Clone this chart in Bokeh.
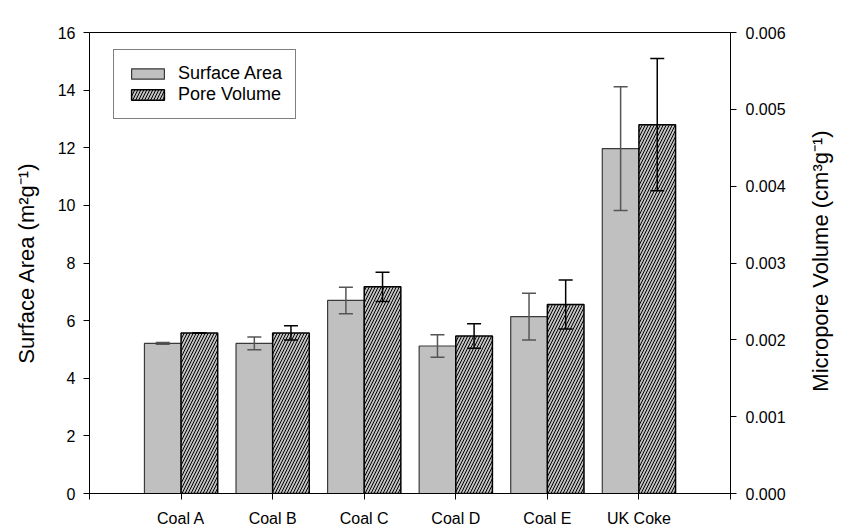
import math
from bokeh.plotting import figure
from bokeh.layouts import row
from bokeh.models import (Range1d, LinearAxis, FixedTicker, PrintfTickFormatter,
                          ColumnDataSource, Whisker, TeeHead, Label)
from bokeh.embed import file_html
from bokeh.resources import INLINE

# ---- data ----
categories = ["Coal A", "Coal B", "Coal C", "Coal D", "Coal E", "UK Coke"]
surface_area = [5.21, 5.21, 6.70, 5.12, 6.14, 11.97]
surface_err = [0.03, 0.22, 0.46, 0.39, 0.81, 2.15]
pore_volume = [0.00209, 0.00209, 0.00269, 0.00205, 0.00246, 0.00480]
pore_err = [0.0, 0.000093, 0.00019, 0.00016, 0.00032, 0.00086]
left_ticks = [0, 2, 4, 6, 8, 10, 12, 14, 16]
right_ticks = [0.000, 0.001, 0.002, 0.003, 0.004, 0.005, 0.006]
left_label = "Surface Area (m²g⁻¹)"
right_label = "Micropore Volume (cm³g⁻¹)"

FONT = "Liberation Sans"
GRAY = "#c0c0c0"

pos = [i + 1 for i in range(len(categories))]
bar_w = 0.4

sa_src = ColumnDataSource(dict(
    x=[p_ - bar_w / 2 for p_ in pos], top=surface_area,
    upper=[v + e for v, e in zip(surface_area, surface_err)],
    lower=[v - e for v, e in zip(surface_area, surface_err)]))
pv_src = ColumnDataSource(dict(
    x=[p_ + bar_w / 2 for p_ in pos], top=pore_volume,
    upper=[v + e for v, e in zip(pore_volume, pore_err)],
    lower=[v - e for v, e in zip(pore_volume, pore_err)]))

W, H = 810, 529          # main chart; a 31 px strip holds the right title
SIDE_W = 841 - W
BL, BR, BT, BB = 89, 80, 32, 35

p = figure(width=W, height=H, output_backend="svg", toolbar_location=None,
           x_range=Range1d(0, len(categories) + 1), y_range=Range1d(0, 16),
           min_border_left=BL, min_border_right=BR, min_border_top=BT,
           min_border_bottom=BB, background_fill_color="white",
           border_fill_color="white")
p.extra_y_ranges = {"pv": Range1d(0, 0.006)}
p.grid.visible = False
p.outline_line_color = "black"
p.outline_line_width = 1

p.vbar(x="x", top="top", width=bar_w, source=sa_src, fill_color=GRAY,
       line_color="#3a3a3a", line_width=1.2, legend_label="Surface Area")
p.vbar(x="x", top="top", width=bar_w, source=pv_src, fill_color=GRAY,
       line_color="black", line_width=1.5, hatch_pattern="/",
       hatch_color="black", hatch_weight=1, hatch_scale=6,
       y_range_name="pv", legend_label="Pore Volume")

w1 = Whisker(base="x", upper="upper", lower="lower", source=sa_src,
             level="overlay",
             line_color="#555555", line_width=1.5,
             upper_head=TeeHead(size=14, line_color="#555555", line_width=1.5),
             lower_head=TeeHead(size=14, line_color="#555555", line_width=1.5))
w2 = Whisker(base="x", upper="upper", lower="lower", source=pv_src,
             level="overlay",
             y_range_name="pv", line_color="black", line_width=1.5,
             upper_head=TeeHead(size=14, line_color="black", line_width=1.5),
             lower_head=TeeHead(size=14, line_color="black", line_width=1.5))
p.add_layout(w1)
p.add_layout(w2)

# x axis
xa = p.xaxis[0]
xa.ticker = FixedTicker(ticks=[0] + pos + [len(categories) + 1])
overrides = {0: "", len(categories) + 1: ""}
for p_, c in zip(pos, categories):
    overrides[p_] = c
xa.major_label_overrides = overrides
xa.minor_tick_line_color = None
xa.major_tick_in = 0
xa.major_tick_out = 6
xa.major_label_standoff = 10

# left axis
ya = p.yaxis[0]
ya.ticker = FixedTicker(ticks=left_ticks)
ya.axis_label = left_label
ya.minor_tick_line_color = None
ya.major_tick_in = 0
ya.major_tick_out = 6
ya.major_label_standoff = 8
ya.axis_label_standoff = 16

# right axis (ticks and numbers)
ra = LinearAxis(y_range_name="pv", ticker=FixedTicker(ticks=right_ticks),
                formatter=PrintfTickFormatter(format="%.3f"))
ra.minor_tick_line_color = None
ra.major_tick_in = 0
ra.major_tick_out = 6
ra.major_label_standoff = 9
p.add_layout(ra, "right")

for ax in [xa, ya, ra]:
    ax.major_label_text_font = FONT
    ax.major_label_text_font_size = "16px"
    ax.major_label_text_color = "black"
    ax.axis_label_text_font = FONT
    ax.axis_label_text_font_size = "22px"
    ax.axis_label_text_font_style = "normal"
    ax.axis_label_text_color = "black"
    ax.axis_line_color = "black"
    ax.major_tick_line_color = "black"

lg = p.legend[0]
lg.location = (24, 374)
lg.border_line_color = "black"
lg.border_line_width = 1.5
lg.background_fill_color = "white"
lg.background_fill_alpha = 1
lg.padding = 13
lg.spacing = 0
lg.margin = 0
lg.glyph_width = 41
lg.glyph_height = 13
lg.label_height = 20
lg.label_standoff = 10
lg.label_text_font = FONT
lg.label_text_font_size = "18px"
lg.label_text_color = "black"

# narrow strip carrying the right-hand axis title (reads bottom to top)
side = figure(width=SIDE_W, height=H, output_backend="svg",
              toolbar_location=None, x_range=Range1d(0, 1),
              y_range=Range1d(0, 1), x_axis_type=None, y_axis_type=None,
              min_border=0, min_border_left=0, min_border_right=0,
              min_border_top=0, min_border_bottom=0,
              background_fill_color="white", border_fill_color="white")
side.outline_line_color = None
side.grid.visible = False
side.add_layout(Label(x=SIDE_W / 2 - 6, y=H / 2 - 32, x_units="screen",
                      y_units="screen", text=right_label, angle=math.pi / 2,
                      text_align="center", text_baseline="middle",
                      text_font=FONT, text_font_size="22px",
                      text_color="black"))

layout = row(p, side, spacing=0)
open("out.html", "w").write(file_html(layout, INLINE))
